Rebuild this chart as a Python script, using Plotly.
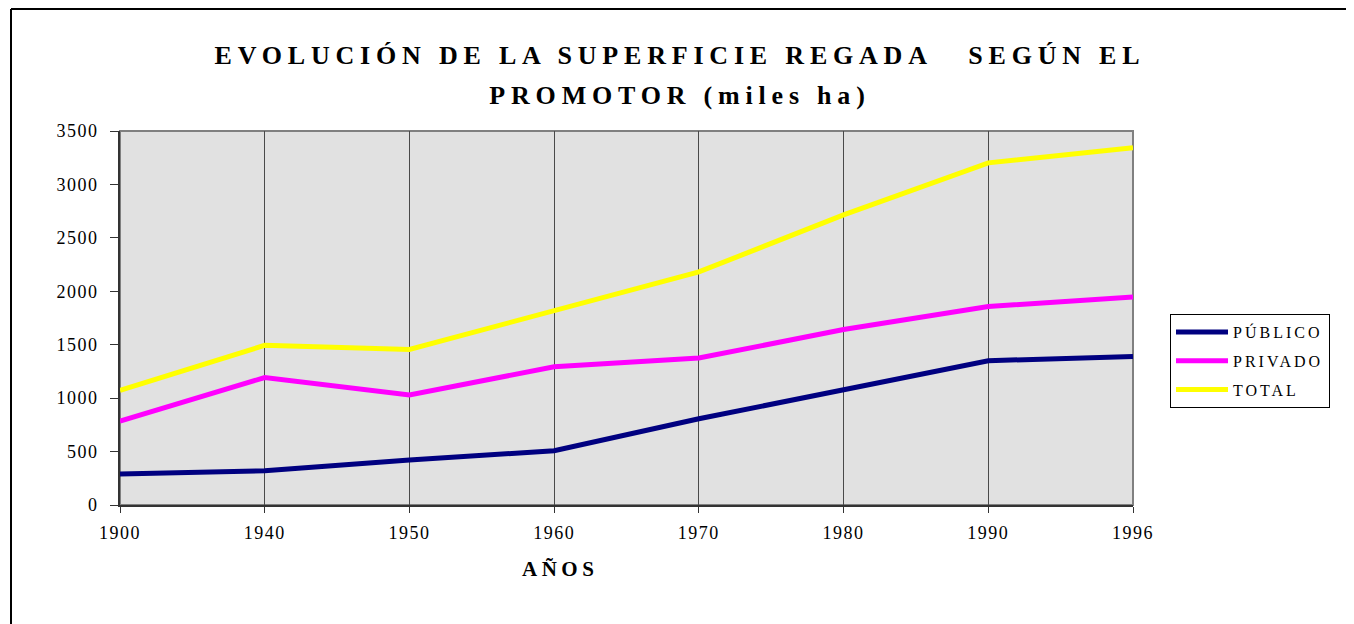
import plotly.graph_objects as go

years = ["1900", "1940", "1950", "1960", "1970", "1980", "1990", "1996"]
publico = [290, 320, 421, 508, 807, 1083, 1350, 1390]
privado = [785, 1193, 1030, 1293, 1375, 1642, 1858, 1946]
total = [1073, 1494, 1456, 1814, 2181, 2715, 3202, 3343]
names = ["PÚBLICO", "PRIVADO", "TOTAL"]
colors = ["#000080", "#ff00ff", "#ffff00"]
y_ticks = [0, 500, 1000, 1500, 2000, 2500, 3000, 3500]

# page body has an 8px margin: figure coords = screen coords - 8
OFF = 8
W, H = 1354 - OFF, 624 - OFF
L, R, T, B = 120, 1133, 131, 505          # plot area in screen px
SERIF = "Liberation Serif, Times New Roman, serif"


def sp(text, px, size=None):
    st = f"letter-spacing:{px}px"
    if size:
        st += f";font-size:{size}px"
    return f'<span style="{st}">{text}</span>'


def px_x(x):
    return (x - L) / (R - L)


def px_y(y):
    return (B - y) / (B - T)


fig = go.Figure()
for i, (nm, vals) in enumerate(zip(names, [publico, privado, total])):
    fig.add_trace(go.Scatter(
        x=years, y=vals, mode="lines", name=sp(nm, 3),
        legendgroup=nm,
        line=dict(color=colors[i], width=5),
    ))

title_txt = ("<b>" + sp("EVOLUCIÓN DE LA SUPERFICIE REGADA &nbsp; SEGÚN EL", 5.8, 26)
             + "<br>" + sp("PROMOTOR (miles ha)", 5.8, 26) + "</b>")

fig.update_layout(
    width=W, height=H,
    margin=dict(l=L - OFF, r=W - (R - OFF), t=T - OFF, b=H - (B - OFF)),
    paper_bgcolor="white",
    plot_bgcolor="#e1e1e1",
    font=dict(family=SERIF, color="black", size=18),
    title=dict(
        text=title_txt,
        x=(680 - OFF) / W, xanchor="center",
        y=1 - (64 - OFF) / H, yanchor="middle",
        font=dict(family=SERIF, size=31, color="black"),
    ),
    showlegend=True,
    legend=dict(
        x=px_x(1170), y=px_y(314), xanchor="left", yanchor="top",
        bordercolor="black", borderwidth=1, bgcolor="white",
        font=dict(family=SERIF, size=16, color="black"),
        tracegroupgap=5,
        itemwidth=52,
    ),
    xaxis=dict(
        type="category", range=[0, len(years) - 1],
        tickvals=years, ticktext=[sp(y, 1.5) for y in years],
        showgrid=True, gridcolor="#4a4a4a", gridwidth=1,
        showline=True, linecolor="#333333", linewidth=2,
        ticks="outside", ticklen=6, tickcolor="#333333",
        ticklabelstandoff=4,
        tickfont=dict(family=SERIF, size=18),
        zeroline=False,
    ),
    yaxis=dict(
        range=[0, 3500], tickvals=y_ticks,
        ticktext=[sp(str(v), 1.5) for v in y_ticks],
        showgrid=False,
        showline=True, linecolor="#333333", linewidth=2,
        ticks="outside", ticklen=8, tickcolor="#333333",
        ticklabelstandoff=8,
        tickfont=dict(family=SERIF, size=18),
        zeroline=False,
    ),
    shapes=[
        dict(type="rect", xref="paper", yref="paper", x0=0, x1=1, y0=0, y1=1,
             line=dict(color="#808080", width=2), layer="below"),
        dict(type="line", xref="paper", yref="paper",
             x0=px_x(11), x1=px_x(1400), y0=px_y(9), y1=px_y(9),
             line=dict(color="black", width=2)),
        dict(type="line", xref="paper", yref="paper",
             x0=px_x(11), x1=px_x(11), y0=px_y(9), y1=px_y(700),
             line=dict(color="black", width=2)),
    ],
    annotations=[
        dict(text="<b>" + sp("AÑOS", 4.5) + "</b>", xref="paper", yref="paper",
             x=px_x(560), y=px_y(569), xanchor="center", yanchor="middle",
             showarrow=False, font=dict(family=SERIF, size=21, color="black")),
    ],
)

fig.write_html("out.html")
